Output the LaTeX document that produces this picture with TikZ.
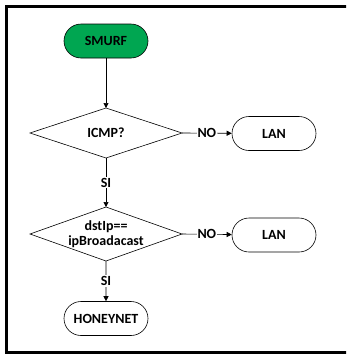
\documentclass[tikz,border=0pt]{standalone}
\usepackage{fontspec}
\setmainfont{Carlito}
\usetikzlibrary{shapes.geometric,shapes.misc,arrows.meta}
\definecolor{smgreen}{RGB}{0,166,81}
\tikzset{
  txt/.style={font=\bfseries\fontsize{14}{15.5}\selectfont},
  term/.style={txt, draw=black, line width=0.6pt, rounded rectangle, minimum width=84pt, minimum height=34pt, inner sep=0pt},
  dshape/.style={draw=black, line width=0.6pt},
  conn/.style={draw=black, line width=0.6pt, -{Triangle[length=5pt,width=5pt]}},
  lbl/.style={txt, fill=white, inner sep=1pt}
}
\begin{document}
\begin{tikzpicture}[x=1pt,y=-1pt]
\useasboundingbox (0,0) rectangle (346,354);
\begin{scope}
\clip (0,0) rectangle (346,354);
\draw[line width=3pt] (6.5,6.5) rectangle (352,352.5);
\end{scope}
\node[term, fill=smgreen] (smurf) at (106,41) {SMURF};
\path[dshape] (30,133) coordinate (d1w) -- (106,108) coordinate (d1n) -- (182,133) coordinate (d1e) -- (106,158) coordinate (d1s) -- cycle;
\node[txt] (d1t) at (106,133) {ICMP?};
\path[dshape] (30,234) coordinate (d2w) -- (106,207) coordinate (d2n) -- (182,234) coordinate (d2e) -- (106,261) coordinate (d2s) -- cycle;
\node[txt, align=center] (d2t) at (106,234) {dstIp==\\ipBroadacast};
\node[term] (lan1) at (274,133.5) {LAN};
\node[term] (lan2) at (274,235) {LAN};
\node[term] (honey) at (106,318.5) {HONEYNET};
\draw[conn] (smurf) -- (d1n);
\draw[conn] (d1e) -- node[lbl] {NO} (lan1);
\draw[conn] (d1s) -- node[lbl] {SI} (d2n);
\draw[conn] (d2e) -- node[lbl] {NO} (lan2);
\draw[conn] (d2s) -- node[lbl] {SI} (honey);
\end{tikzpicture}
\end{document}
